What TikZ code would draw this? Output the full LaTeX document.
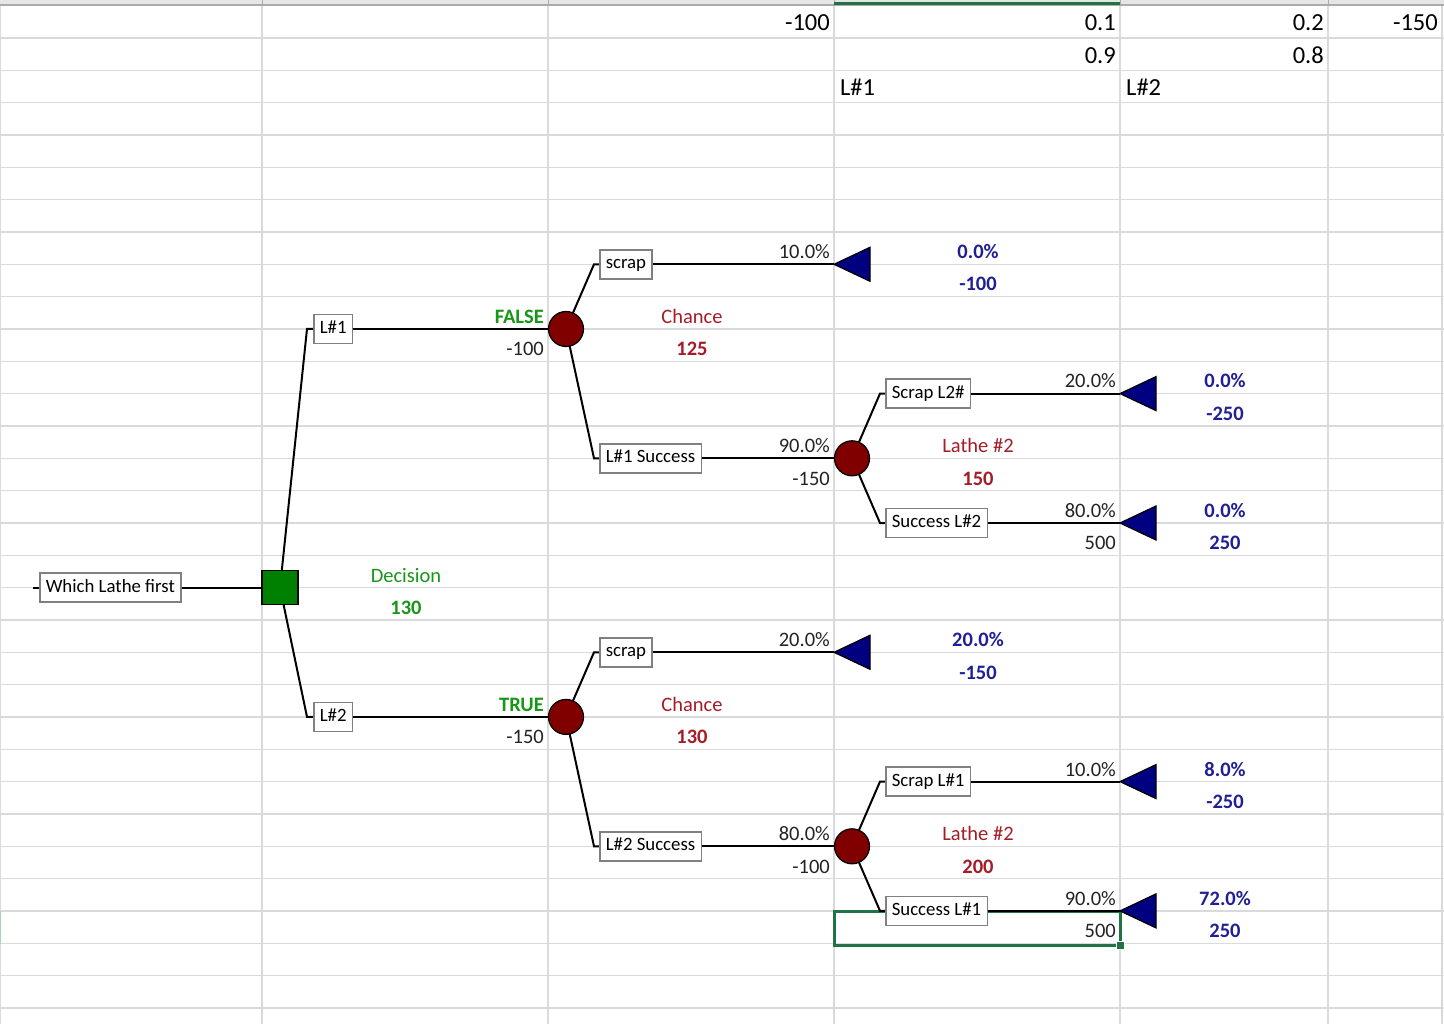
\documentclass[tikz,border=0pt]{standalone}
\usepackage{fontspec}
\setmainfont{Carlito}
\usetikzlibrary{backgrounds,calc}

\definecolor{gridc}{RGB}{218,218,218}
\definecolor{hdr}{RGB}{230,230,230}
\definecolor{hdrline}{RGB}{171,171,171}
\definecolor{xlgreen}{RGB}{33,115,70}
\definecolor{rowmark}{RGB}{165,212,185}
\definecolor{decfill}{RGB}{0,128,0}
\definecolor{dectext}{RGB}{24,150,24}
\definecolor{chfill}{RGB}{128,0,0}
\definecolor{chtext}{RGB}{165,28,40}
\definecolor{termfill}{RGB}{0,0,128}
\definecolor{termtext}{RGB}{32,32,150}
\definecolor{boxline}{RGB}{128,128,128}
\definecolor{valtext}{RGB}{35,35,35}

\tikzset{
  sheet/.style={font=\fontsize{24.5}{28}\selectfont, inner sep=0pt, text=black},
  val/.style={font=\fontsize{20.5}{24}\selectfont, inner sep=0pt, text=valtext},
  decval/.style={val, text=dectext},
  chval/.style={val, text=chtext},
  termval/.style={val, text=termtext, font=\fontsize{20.5}{24}\selectfont\bfseries},
  strong/.style={font=\fontsize{20.5}{24}\selectfont\bfseries},
  R/.style={anchor=base east},
  C/.style={anchor=base},
  L/.style={anchor=base west},
  lbl/.style={draw=boxline, line width=1.5pt, fill=white,
    font=\fontsize{18.8}{22}\selectfont, text=black,
    inner xsep=6pt, inner ysep=0pt, text height=13pt, text depth=4pt,
    minimum height=29pt, anchor=west},
  branch/.style={line width=2pt, black},
  decnode/.style={rectangle, draw=black, line width=1.4pt, fill=decfill,
    minimum width=36pt, minimum height=34pt, inner sep=0pt},
  chnode/.style={circle, draw=black, line width=1.2pt, fill=chfill,
    minimum size=35pt, inner sep=0pt},
  gridline/.style={gridc, line width=1.3pt},
  terminal/.pic={\filldraw[fill=termfill, draw=black, line width=1.2pt]
    (0,0) -- (36,-17) -- (36,17) -- cycle;}
}

\begin{document}
\begin{tikzpicture}[x=1pt, y=-1pt]
\useasboundingbox (0,0) rectangle (1444,1024);

% ---------- worksheet cells above the tree ----------
\node[sheet, R] (h1) at (830,31) {-100};
\node[sheet, R] (h2) at (1116,31) {0.1};
\node[sheet, R] (h3) at (1324,31) {0.2};
\node[sheet, R] (h4) at (1438,31) {-150};
\node[sheet, R] (h5) at (1116,63.3) {0.9};
\node[sheet, R] (h6) at (1324,63.3) {0.8};
\node[sheet, L] (h7) at (840,95.7) {L\#1};
\node[sheet, L] (h8) at (1126,95.7) {L\#2};

% ---------- tree nodes ----------
\coordinate (rootstub) at (33,587.6);
\node[lbl] (root) at (39,587.6) {Which Lathe first};
\node[decnode] (dec) at (280,587.6) {};

\node[lbl] (l1) at (313,329.0) {L\#1};
\node[lbl] (l2) at (313,716.9) {L\#2};
\node[chnode] (c1) at (566,329.0) {};
\node[chnode] (c3) at (566,716.9) {};

\node[lbl] (s1) at (599,264.3) {scrap};
\node[lbl] (ls1) at (599,458.3) {L\#1 Success};
\node[lbl] (s3) at (599,652.3) {scrap};
\node[lbl] (ls2) at (599,846.3) {L\#2 Success};
\node[chnode] (c2) at (852,458.3) {};
\node[chnode] (c4) at (852,846.3) {};

\node[lbl] (s2) at (885,393.6) {Scrap L2\#};
\node[lbl] (sl2) at (885,523.0) {Success L\#2};
\node[lbl] (s4) at (885,781.6) {Scrap L\#1};
\node[lbl] (sl1) at (885,910.9) {Success L\#1};

\coordinate (t1) at (834,264.3);
\coordinate (t2) at (1120,393.6);
\coordinate (t3) at (1120,523.0);
\coordinate (t4) at (834,652.3);
\coordinate (t5) at (1120,781.6);
\coordinate (t6) at (1120,910.9);
\foreach \t in {t1,t2,t3,t4,t5,t6} \pic at (\t) {terminal};

% ---------- values beside the tree ----------
% decision
\node[decval, C] (d1) at (406,582) {Decision};
\node[decval, C, strong, text=dectext] (d2) at (406,614.3) {130};
% upper chance node
\node[val, R, strong, text=dectext] (a1) at (544,323.4) {FALSE};
\node[val, R] (a2) at (544,355.7) {-100};
\node[chval, C] (a3) at (692,323.4) {Chance};
\node[chval, C, strong, text=chtext] (a4) at (692,355.7) {125};
\node[val, R] (a5) at (830,258.7) {10.0\%};
\node[termval, C] (a6) at (978,258.7) {0.0\%};
\node[termval, C] (a7) at (978,291) {-100};
\node[val, R] (a8) at (830,452.7) {90.0\%};
\node[val, R] (a9) at (830,485) {-150};
\node[chval, C] (a10) at (978,452.7) {Lathe \#2};
\node[chval, C, strong, text=chtext] (a11) at (978,485) {150};
\node[val, R] (a12) at (1116,388) {20.0\%};
\node[termval, C] (a13) at (1225,388) {0.0\%};
\node[termval, C] (a14) at (1225,420.4) {-250};
\node[val, R] (a15) at (1116,517.4) {80.0\%};
\node[val, R] (a16) at (1116,549.7) {500};
\node[termval, C] (a17) at (1225,517.4) {0.0\%};
\node[termval, C] (a18) at (1225,549.7) {250};
% lower chance node
\node[val, R, strong, text=dectext] (b1) at (544,711.3) {TRUE};
\node[val, R] (b2) at (544,743.7) {-150};
\node[chval, C] (b3) at (692,711.3) {Chance};
\node[chval, C, strong, text=chtext] (b4) at (692,743.7) {130};
\node[val, R] (b5) at (830,646.7) {20.0\%};
\node[termval, C] (b6) at (978,646.7) {20.0\%};
\node[termval, C] (b7) at (978,679) {-150};
\node[val, R] (b8) at (830,840.7) {80.0\%};
\node[val, R] (b9) at (830,873) {-100};
\node[chval, C] (b10) at (978,840.7) {Lathe \#2};
\node[chval, C, strong, text=chtext] (b11) at (978,873) {200};
\node[val, R] (b12) at (1116,776) {10.0\%};
\node[termval, C] (b13) at (1225,776) {8.0\%};
\node[termval, C] (b14) at (1225,808.3) {-250};
\node[val, R] (b15) at (1116,905.3) {90.0\%};
\node[val, R] (b16) at (1116,937.6) {500};
\node[termval, C] (b17) at (1225,905.3) {72.0\%};
\node[termval, C] (b18) at (1225,937.6) {250};

\begin{pgfonlayer}{background}
  \fill[white] (0,0) rectangle (1444,1024);
  % sheet grid
  \foreach \k in {1,...,31}
    \draw[gridline] (0,{5.67+32.33*\k}) -- (1444,{5.67+32.33*\k});
  \foreach \x in {0.7,262,548,834,1120,1328,1442}
    \draw[gridline] (\x,5) -- (\x,1024);
  % column header strip
  \fill[hdr] (0,0) rectangle (1444,5);
  \foreach \x in {262,548,834,1120,1328}
    \draw[hdrline, line width=1pt] (\x,0) -- (\x,5);
  \draw[hdrline, line width=1.5pt] (0,5) -- (1444,5);
  \draw[xlgreen, line width=3pt] (834,3.5) -- (1120,3.5);
  % active cell
  \draw[rowmark, line width=1.5pt] (0.7,911) -- (0.7,944);
  \draw[xlgreen, line width=3pt] (834,911.5) rectangle (1120,945);
  \filldraw[fill=xlgreen, draw=white, line width=1pt] (1116,941.5) rectangle (1124,949.5);

  % branches
  \draw[branch] (rootstub) -- (root.west);
  \draw[branch] (root.east) -- (dec.center);

  \draw[branch] (dec.center) -- ($(l1.west)+(-6,0)$) -- (l1.west);
  \draw[branch] (l1.east) -- (c1.center);
  \draw[branch] (dec.center) -- ($(l2.west)+(-6,0)$) -- (l2.west);
  \draw[branch] (l2.east) -- (c3.center);

  \draw[branch] (c1.center) -- ($(s1.west)+(-5,0)$) -- (s1.west);
  \draw[branch] (s1.east) -- (t1);
  \draw[branch] (c1.center) -- ($(ls1.west)+(-5,0)$) -- (ls1.west);
  \draw[branch] (ls1.east) -- (c2.center);
  \draw[branch] (c2.center) -- ($(s2.west)+(-5,0)$) -- (s2.west);
  \draw[branch] (s2.east) -- (t2);
  \draw[branch] (c2.center) -- ($(sl2.west)+(-5,0)$) -- (sl2.west);
  \draw[branch] (sl2.east) -- (t3);

  \draw[branch] (c3.center) -- ($(s3.west)+(-5,0)$) -- (s3.west);
  \draw[branch] (s3.east) -- (t4);
  \draw[branch] (c3.center) -- ($(ls2.west)+(-5,0)$) -- (ls2.west);
  \draw[branch] (ls2.east) -- (c4.center);
  \draw[branch] (c4.center) -- ($(s4.west)+(-5,0)$) -- (s4.west);
  \draw[branch] (s4.east) -- (t5);
  \draw[branch] (c4.center) -- ($(sl1.west)+(-5,0)$) -- (sl1.west);
  \draw[branch] (sl1.east) -- (t6);
\end{pgfonlayer}
\end{tikzpicture}
\end{document}
